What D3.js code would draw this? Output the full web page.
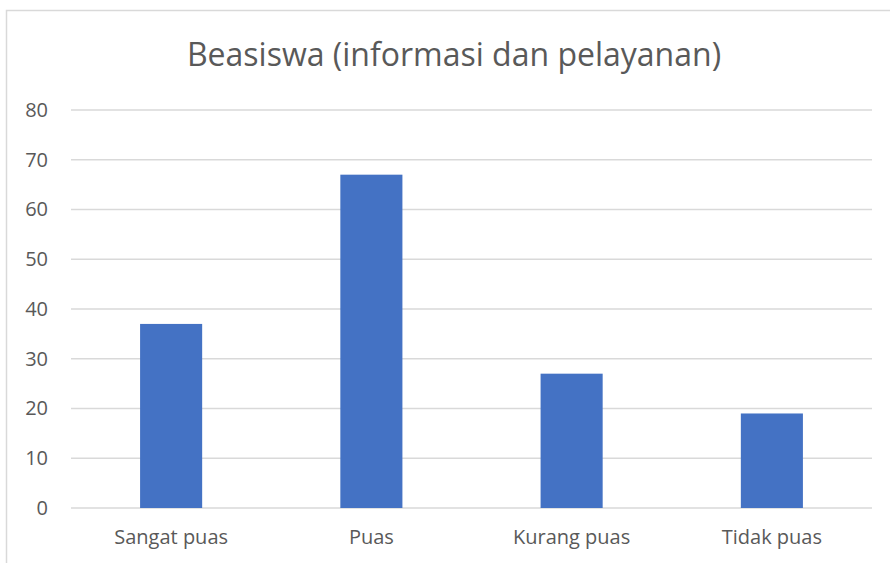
<!DOCTYPE html>
<html>
<head>
<meta charset="utf-8">
<script src="https://cdn.jsdelivr.net/npm/d3@7"></script>
<style>
  body { margin: 0; background: #fff; }
  svg text { font-family: "Open Sans", "Noto Sans", sans-serif; fill: #595959; }
</style>
</head>
<body>
<div id="chart"></div>
<script>
var categories = ["Sangat puas", "Puas", "Kurang puas", "Tidak puas"];
var values = [37, 67, 27, 19];
var yTicks = [0, 10, 20, 30, 40, 50, 60, 70, 80];
var title = "Beasiswa (informasi dan pelayanan)";

var width = 890, height = 563;
var plotLeft = 71, plotRight = 872, plotTop = 110, plotBottom = 508;

var svg = d3.select("#chart").append("svg")
    .attr("width", width)
    .attr("height", height);

// chart frame
svg.append("rect")
    .attr("x", 6.5).attr("y", 10.5)
    .attr("width", 900).attr("height", 600)
    .attr("fill", "#fff")
    .attr("stroke", "#d9d9d9")
    .attr("stroke-width", 1.5);

var x = d3.scaleBand()
    .domain(categories)
    .range([plotLeft, plotRight])
    .paddingInner(0.69)
    .paddingOuter(0.345);

var y = d3.scaleLinear()
    .domain([0, 80])
    .range([plotBottom, plotTop]);

// gridlines
svg.append("g")
  .selectAll("line")
  .data(yTicks)
  .enter().append("line")
    .attr("x1", plotLeft).attr("x2", plotRight)
    .attr("y1", function(d) { return y(d); })
    .attr("y2", function(d) { return y(d); })
    .attr("stroke", "#d9d9d9")
    .attr("stroke-width", 1.5);

// y labels
var yAxis = d3.axisLeft(y).tickValues(yTicks).tickSize(0).tickPadding(0);
var gy = svg.append("g")
    .attr("transform", "translate(48,0)")
    .call(yAxis);
gy.select(".domain").remove();
gy.selectAll("text").attr("font-size", 20).attr("fill", "#595959")
    .style("font-family", "'Open Sans', sans-serif");

// bars
svg.append("g")
  .selectAll("rect")
  .data(values)
  .enter().append("rect")
    .attr("x", function(d, i) { return x(categories[i]); })
    .attr("y", function(d) { return y(d); })
    .attr("width", x.bandwidth())
    .attr("height", function(d) { return plotBottom - y(d); })
    .attr("fill", "#4472c4");

// x labels
var xAxis = d3.axisBottom(x).tickSize(0).tickPadding(0);
var gx = svg.append("g")
    .attr("transform", "translate(0,530)")
    .call(xAxis);
gx.select(".domain").remove();
gx.selectAll("text").attr("font-size", 20).attr("fill", "#595959")
    .style("font-family", "'Open Sans', sans-serif");

// title
svg.append("text")
    .attr("x", 454)
    .attr("y", 66)
    .attr("text-anchor", "middle")
    .attr("font-size", 32)
    .text(title);
</script>
</body>
</html>
